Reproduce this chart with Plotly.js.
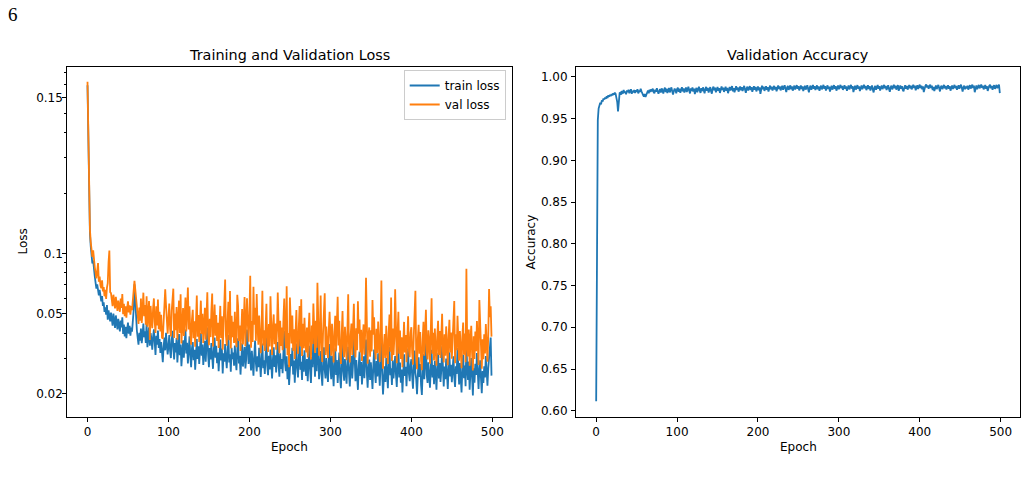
<!DOCTYPE html>
<html>
<head>
<meta charset="utf-8">
<script src="https://cdn.plot.ly/plotly-3.0.1.min.js"></script>
<style>
  html, body { margin: 0; padding: 0; background: #ffffff; }
  #chart { width: 1028px; height: 480px; }
</style>
</head>
<body>
<div id="chart"></div>
<script>
// Per-epoch training history (500 epochs)
const trainLoss = [
  0.6900, 0.3050, 0.1620, 0.1260, 0.1085, 0.0972, 0.0893, 0.0921, 0.0812, 0.0768,
  0.0714, 0.0668, 0.0702, 0.0641, 0.0618, 0.0659, 0.0592, 0.0577, 0.0613, 0.0548,
  0.0571, 0.0512, 0.0539, 0.0496, 0.0553, 0.0468, 0.0521, 0.0487, 0.0459, 0.0508,
  0.0476, 0.0437, 0.0502, 0.0458, 0.0426, 0.0491, 0.0449, 0.0418, 0.0472, 0.0437,
  0.0409, 0.0463, 0.0428, 0.0481, 0.0397, 0.0442, 0.0386, 0.0431, 0.0378, 0.0419,
  0.0452, 0.0398, 0.0436, 0.0389, 0.0427, 0.0408, 0.0468, 0.0521, 0.0702, 0.0583,
  0.0461, 0.0412, 0.0379, 0.0351, 0.0402, 0.0368, 0.0423, 0.0357, 0.0391, 0.0447,
  0.0382, 0.0409, 0.0358, 0.0452, 0.0341, 0.0393, 0.0428, 0.0347, 0.0401, 0.0372,
  0.0331, 0.0384, 0.0419, 0.0362, 0.0312, 0.0389, 0.0351, 0.0413, 0.0338, 0.0374,
  0.0319, 0.0362, 0.0298, 0.0287, 0.0342, 0.0381, 0.0329, 0.0402, 0.0353, 0.0314,
  0.0346, 0.0392, 0.0327, 0.0301, 0.0368, 0.0412, 0.0339, 0.0296, 0.0358, 0.0321,
  0.0379, 0.0286, 0.0334, 0.0397, 0.0311, 0.0352, 0.0274, 0.0328, 0.0369, 0.0302,
  0.0343, 0.0418, 0.0317, 0.0359, 0.0283, 0.0324, 0.0386, 0.0308, 0.0271, 0.0337,
  0.0362, 0.0294, 0.0331, 0.0263, 0.0319, 0.0374, 0.0298, 0.0345, 0.0281, 0.0326,
  0.0401, 0.0309, 0.0352, 0.0278, 0.0316, 0.0367, 0.0289, 0.0334, 0.0427, 0.0313,
  0.0271, 0.0338, 0.0296, 0.0358, 0.0312, 0.0266, 0.0329, 0.0381, 0.0302, 0.0347,
  0.0284, 0.0321, 0.0259, 0.0306, 0.0372, 0.0293, 0.0336, 0.0252, 0.0318, 0.0289,
  0.0354, 0.0301, 0.0268, 0.0327, 0.0392, 0.0286, 0.0314, 0.0257, 0.0339, 0.0297,
  0.0321, 0.0276, 0.0348, 0.0291, 0.0262, 0.0333, 0.0378, 0.0283, 0.0309, 0.0249,
  0.0315, 0.0357, 0.0273, 0.0302, 0.0342, 0.0267, 0.0296, 0.0418, 0.0318, 0.0281,
  0.0352, 0.0294, 0.0261, 0.0327, 0.0279, 0.0246, 0.0312, 0.0368, 0.0283, 0.0258,
  0.0307, 0.0271, 0.0339, 0.0288, 0.0242, 0.0301, 0.0356, 0.0268, 0.0293, 0.0251,
  0.0319, 0.0382, 0.0276, 0.0247, 0.0309, 0.0264, 0.0332, 0.0286, 0.0238, 0.0297,
  0.0341, 0.0272, 0.0311, 0.0255, 0.0289, 0.0362, 0.0277, 0.0243, 0.0318, 0.0266,
  0.0298, 0.0253, 0.0324, 0.0412, 0.0284, 0.0259, 0.0307, 0.0236, 0.0279, 0.0221,
  0.0262, 0.0315, 0.0274, 0.0339, 0.0249, 0.0293, 0.0227, 0.0281, 0.0356, 0.0268,
  0.0241, 0.0302, 0.0379, 0.0263, 0.0288, 0.0234, 0.0311, 0.0257, 0.0329, 0.0276,
  0.0245, 0.0298, 0.0231, 0.0284, 0.0347, 0.0262, 0.0226, 0.0305, 0.0271, 0.0392,
  0.0285, 0.0243, 0.0319, 0.0259, 0.0418, 0.0297, 0.0236, 0.0274, 0.0326, 0.0251,
  0.0219, 0.0283, 0.0341, 0.0262, 0.0238, 0.0301, 0.0267, 0.0229, 0.0289, 0.0354,
  0.0271, 0.0236, 0.0309, 0.0255, 0.0218, 0.0282, 0.0337, 0.0248, 0.0294, 0.0226,
  0.0267, 0.0321, 0.0241, 0.0213, 0.0276, 0.0358, 0.0259, 0.0232, 0.0298, 0.0264,
  0.0224, 0.0287, 0.0343, 0.0253, 0.0217, 0.0272, 0.0309, 0.0238, 0.0283, 0.0397,
  0.0268, 0.0231, 0.0294, 0.0252, 0.0209, 0.0276, 0.0324, 0.0245, 0.0288, 0.0222,
  0.0263, 0.0307, 0.0239, 0.0281, 0.0372, 0.0256, 0.0214, 0.0269, 0.0296, 0.0234,
  0.0287, 0.0248, 0.0211, 0.0273, 0.0332, 0.0257, 0.0226, 0.0291, 0.0244, 0.0318,
  0.0262, 0.0219, 0.0284, 0.0386, 0.0251, 0.0198, 0.0237, 0.0274, 0.0229, 0.0301,
  0.0256, 0.0213, 0.0279, 0.0342, 0.0247, 0.0268, 0.0221, 0.0293, 0.0238, 0.0262,
  0.0308, 0.0249, 0.0216, 0.0277, 0.0353, 0.0241, 0.0286, 0.0227, 0.0264, 0.0203,
  0.0259, 0.0314, 0.0245, 0.0272, 0.0218, 0.0289, 0.0336, 0.0251, 0.0231, 0.0278,
  0.0297, 0.0243, 0.0212, 0.0269, 0.0328, 0.0254, 0.0236, 0.0199, 0.0261, 0.0304,
  0.0242, 0.0281, 0.0221, 0.0197, 0.0258, 0.0315, 0.0236, 0.0274, 0.0362, 0.0248,
  0.0226, 0.0287, 0.0253, 0.0214, 0.0269, 0.0331, 0.0241, 0.0278, 0.0223, 0.0292,
  0.0257, 0.0209, 0.0266, 0.0318, 0.0238, 0.0284, 0.0229, 0.0261, 0.0345, 0.0247,
  0.0217, 0.0273, 0.0236, 0.0299, 0.0252, 0.0211, 0.0268, 0.0322, 0.0244, 0.0279,
  0.0228, 0.0263, 0.0307, 0.0241, 0.0216, 0.0274, 0.0251, 0.0338, 0.0259, 0.0222,
  0.0284, 0.0246, 0.0203, 0.0267, 0.0313, 0.0239, 0.0276, 0.0218, 0.0371, 0.0262,
  0.0234, 0.0289, 0.0209, 0.0256, 0.0301, 0.0243, 0.0196, 0.0268, 0.0227, 0.0282,
  0.0248, 0.0319, 0.0236, 0.0211, 0.0264, 0.0293, 0.0238, 0.0201, 0.0259, 0.0226,
  0.0274, 0.0241, 0.0308, 0.0253, 0.0219, 0.0267, 0.0296, 0.0332, 0.0381, 0.0246
];

const valLoss = [
  0.7200, 0.3320, 0.1710, 0.1320, 0.1140, 0.1010, 0.0962, 0.1038, 0.0905, 0.0853,
  0.0802, 0.0751, 0.0818, 0.0896, 0.0723, 0.0768, 0.0694, 0.0672, 0.0735, 0.0648,
  0.0681, 0.0612, 0.0659, 0.0593, 0.0674, 0.0712, 0.0905, 0.1035, 0.0642, 0.0635,
  0.0589, 0.0546, 0.0623, 0.0571, 0.0532, 0.0608, 0.0559, 0.0517, 0.0583, 0.0548,
  0.0512, 0.0597, 0.0536, 0.0628, 0.0498, 0.0561, 0.0487, 0.0545, 0.0479, 0.0534,
  0.0578, 0.0509, 0.0552, 0.0496, 0.0547, 0.0521, 0.0594, 0.0648, 0.0731, 0.0662,
  0.0583, 0.0512, 0.0468, 0.0445, 0.0538, 0.0462, 0.0596, 0.0451, 0.0521, 0.0638,
  0.0487, 0.0553, 0.0441, 0.0612, 0.0432, 0.0527, 0.0579, 0.0371, 0.0548, 0.0469,
  0.0424, 0.0532, 0.0597, 0.0456, 0.0402, 0.0545, 0.0438, 0.0589, 0.0419, 0.0512,
  0.0408, 0.0495, 0.0381, 0.0376, 0.0468, 0.0541, 0.0663, 0.0552, 0.0437, 0.0398,
  0.0472, 0.0563, 0.0421, 0.0386, 0.0518, 0.0597, 0.0668, 0.0379, 0.0502, 0.0414,
  0.0541, 0.0372, 0.0463, 0.0582, 0.0401, 0.0627, 0.0356, 0.0449, 0.0534, 0.0388,
  0.0476, 0.0603, 0.0409, 0.0512, 0.0677, 0.0418, 0.0546, 0.0392, 0.0351, 0.0468,
  0.0524, 0.0378, 0.0459, 0.0343, 0.0447, 0.0618, 0.0385, 0.0493, 0.0362, 0.0451,
  0.0582, 0.0397, 0.0501, 0.0358, 0.0439, 0.0536, 0.0372, 0.0478, 0.0641, 0.0403,
  0.0349, 0.0472, 0.0383, 0.0518, 0.0632, 0.0344, 0.0461, 0.0557, 0.0389, 0.0493,
  0.0366, 0.0451, 0.0338, 0.0428, 0.0548, 0.0379, 0.0487, 0.0331, 0.0452, 0.0529,
  0.0742, 0.0388, 0.0347, 0.0463, 0.0574, 0.0369, 0.0651, 0.0336, 0.0489, 0.0382,
  0.0457, 0.0358, 0.0512, 0.0376, 0.0341, 0.0623, 0.0547, 0.0366, 0.0438, 0.0327,
  0.0449, 0.0528, 0.0352, 0.0426, 0.0607, 0.0345, 0.0417, 0.0598, 0.0452, 0.0363,
  0.0503, 0.0774, 0.0339, 0.0461, 0.0362, 0.0683, 0.0442, 0.0536, 0.0367, 0.0629,
  0.0437, 0.0351, 0.0491, 0.0372, 0.0318, 0.0426, 0.0652, 0.0348, 0.0414, 0.0327,
  0.0458, 0.0561, 0.0357, 0.0323, 0.0445, 0.0344, 0.0612, 0.0408, 0.0312, 0.0429,
  0.0497, 0.0353, 0.0448, 0.0331, 0.0412, 0.0639, 0.0359, 0.0318, 0.0462, 0.0346,
  0.0428, 0.0329, 0.0471, 0.0596, 0.0406, 0.0337, 0.0687, 0.0311, 0.0401, 0.0271,
  0.0603, 0.0452, 0.0356, 0.0491, 0.0327, 0.0419, 0.0298, 0.0403, 0.0522, 0.0349,
  0.0316, 0.0432, 0.0547, 0.0344, 0.0592, 0.0308, 0.0446, 0.0337, 0.0478, 0.0361,
  0.0321, 0.0427, 0.0303, 0.0409, 0.0506, 0.0343, 0.0296, 0.0437, 0.0354, 0.0563,
  0.0409, 0.0319, 0.0462, 0.0339, 0.0714, 0.0427, 0.0309, 0.0396, 0.0618, 0.0331,
  0.0288, 0.0408, 0.0497, 0.0634, 0.0312, 0.0432, 0.0349, 0.0301, 0.0417, 0.0512,
  0.0391, 0.0309, 0.0446, 0.0334, 0.0286, 0.0406, 0.0489, 0.0325, 0.0423, 0.0608,
  0.0348, 0.0462, 0.0316, 0.0281, 0.0398, 0.0517, 0.0339, 0.0304, 0.0431, 0.0345,
  0.0294, 0.0412, 0.0627, 0.0332, 0.0286, 0.0391, 0.0447, 0.0312, 0.0408, 0.0561,
  0.0351, 0.0303, 0.0424, 0.0329, 0.0578, 0.0398, 0.0469, 0.0321, 0.0416, 0.0291,
  0.0383, 0.0443, 0.0313, 0.0405, 0.0757, 0.0336, 0.0282, 0.0389, 0.0428, 0.0306,
  0.0414, 0.0325, 0.0586, 0.0394, 0.0481, 0.0338, 0.0296, 0.0421, 0.0319, 0.0458,
  0.0379, 0.0288, 0.0409, 0.0733, 0.0329, 0.0266, 0.0344, 0.0397, 0.0301, 0.0436,
  0.0335, 0.0281, 0.0403, 0.0496, 0.0324, 0.0603, 0.0291, 0.0423, 0.0312, 0.0378,
  0.0663, 0.0326, 0.0284, 0.0401, 0.0512, 0.0316, 0.0413, 0.0298, 0.0382, 0.0271,
  0.0374, 0.0456, 0.0321, 0.0392, 0.0287, 0.0418, 0.0487, 0.0329, 0.0304, 0.0401,
  0.0429, 0.0318, 0.0279, 0.0388, 0.0476, 0.0652, 0.0309, 0.0265, 0.0377, 0.0441,
  0.0316, 0.0406, 0.0291, 0.0262, 0.0373, 0.0457, 0.0309, 0.0396, 0.0524, 0.0325,
  0.0296, 0.0414, 0.0366, 0.0282, 0.0389, 0.0598, 0.0316, 0.0402, 0.0293, 0.0423,
  0.0336, 0.0276, 0.0384, 0.0462, 0.0312, 0.0411, 0.0301, 0.0377, 0.0501, 0.0324,
  0.0286, 0.0395, 0.0309, 0.0433, 0.0364, 0.0277, 0.0387, 0.0467, 0.0321, 0.0404,
  0.0299, 0.0381, 0.0446, 0.0579, 0.0284, 0.0396, 0.0329, 0.0489, 0.0374, 0.0292,
  0.0411, 0.0322, 0.0268, 0.0386, 0.0453, 0.0313, 0.0399, 0.0287, 0.0839, 0.0345,
  0.0307, 0.0418, 0.0276, 0.0371, 0.0436, 0.0319, 0.0261, 0.0387, 0.0298, 0.0408,
  0.0326, 0.0461, 0.0309, 0.0278, 0.0586, 0.0423, 0.0313, 0.0266, 0.0374, 0.0297,
  0.0396, 0.0317, 0.0445, 0.0333, 0.0289, 0.0386, 0.0665, 0.0481, 0.0546, 0.0385
];

const valAccuracy = [
  0.6115, 0.9150, 0.9480, 0.9620, 0.9655, 0.9690, 0.9672, 0.9718, 0.9705, 0.9741,
  0.9728, 0.9752, 0.9736, 0.9768, 0.9745, 0.9779, 0.9761, 0.9784, 0.9770, 0.9792,
  0.9778, 0.9803, 0.9786, 0.9811, 0.9795, 0.9762, 0.9701, 0.9587, 0.9748, 0.9806,
  0.9812, 0.9786, 0.9831, 0.9798, 0.9842, 0.9807, 0.9825, 0.9791, 0.9838, 0.9815,
  0.9846, 0.9803, 0.9828, 0.9851, 0.9797, 0.9834, 0.9812, 0.9843, 0.9806, 0.9839,
  0.9821, 0.9852, 0.9801, 0.9837, 0.9818, 0.9856, 0.9827, 0.9794, 0.9781, 0.9763,
  0.9795, 0.9758, 0.9783, 0.9811, 0.9836, 0.9804, 0.9847, 0.9819, 0.9852, 0.9824,
  0.9859, 0.9816, 0.9802, 0.9845, 0.9821, 0.9863, 0.9833, 0.9798, 0.9828, 0.9854,
  0.9811, 0.9862, 0.9835, 0.9799, 0.9848, 0.9871, 0.9818, 0.9857, 0.9806, 0.9842,
  0.9866, 0.9814, 0.9851, 0.9874, 0.9826, 0.9789, 0.9831, 0.9859, 0.9838, 0.9803,
  0.9852, 0.9869, 0.9821, 0.9858, 0.9809, 0.9847, 0.9876, 0.9825, 0.9861, 0.9812,
  0.9849, 0.9872, 0.9817, 0.9856, 0.9881, 0.9834, 0.9801, 0.9862, 0.9829, 0.9873,
  0.9824, 0.9858, 0.9793, 0.9845, 0.9868, 0.9815, 0.9859, 0.9882, 0.9836, 0.9807,
  0.9863, 0.9828, 0.9874, 0.9841, 0.9802, 0.9857, 0.9879, 0.9832, 0.9866, 0.9811,
  0.9854, 0.9877, 0.9826, 0.9798, 0.9861, 0.9883, 0.9837, 0.9869, 0.9814, 0.9859,
  0.9878, 0.9831, 0.9865, 0.9807, 0.9856, 0.9886, 0.9842, 0.9871, 0.9819, 0.9862,
  0.9881, 0.9833, 0.9868, 0.9804, 0.9857, 0.9879, 0.9838, 0.9872, 0.9889, 0.9827,
  0.9864, 0.9815, 0.9869, 0.9887, 0.9841, 0.9874, 0.9822, 0.9866, 0.9884, 0.9839,
  0.9877, 0.9829, 0.9868, 0.9892, 0.9846, 0.9808, 0.9863, 0.9883, 0.9836, 0.9874,
  0.9889, 0.9842, 0.9876, 0.9821, 0.9866, 0.9887, 0.9845, 0.9879, 0.9826, 0.9869,
  0.9884, 0.9839, 0.9873, 0.9796, 0.9858, 0.9893, 0.9851, 0.9881, 0.9832, 0.9869,
  0.9888, 0.9843, 0.9877, 0.9824, 0.9866, 0.9895, 0.9849, 0.9882, 0.9836, 0.9872,
  0.9891, 0.9847, 0.9879, 0.9827, 0.9869, 0.9897, 0.9853, 0.9885, 0.9838, 0.9876,
  0.9894, 0.9845, 0.9881, 0.9899, 0.9856, 0.9818, 0.9872, 0.9891, 0.9843, 0.9879,
  0.9898, 0.9851, 0.9886, 0.9834, 0.9874, 0.9895, 0.9848, 0.9882, 0.9901, 0.9857,
  0.9889, 0.9838, 0.9876, 0.9896, 0.9852, 0.9884, 0.9829, 0.9869, 0.9893, 0.9846,
  0.9881, 0.9899, 0.9854, 0.9815, 0.9873, 0.9894, 0.9845, 0.9879, 0.9902, 0.9857,
  0.9888, 0.9842, 0.9877, 0.9897, 0.9851, 0.9886, 0.9833, 0.9871, 0.9895, 0.9849,
  0.9882, 0.9903, 0.9856, 0.9887, 0.9836, 0.9874, 0.9898, 0.9853, 0.9883, 0.9824,
  0.9872, 0.9894, 0.9846, 0.9881, 0.9901, 0.9855, 0.9888, 0.9834, 0.9876, 0.9897,
  0.9851, 0.9884, 0.9904, 0.9862, 0.9891, 0.9843, 0.9877, 0.9899, 0.9855, 0.9886,
  0.9832, 0.9873, 0.9896, 0.9849, 0.9882, 0.9903, 0.9858, 0.9889, 0.9818, 0.9869,
  0.9893, 0.9847, 0.9879, 0.9901, 0.9856, 0.9886, 0.9829, 0.9872, 0.9897, 0.9851,
  0.9884, 0.9905, 0.9862, 0.9891, 0.9841, 0.9876, 0.9899, 0.9853, 0.9887, 0.9836,
  0.9874, 0.9896, 0.9848, 0.9813, 0.9869, 0.9892, 0.9845, 0.9879, 0.9902, 0.9857,
  0.9888, 0.9835, 0.9873, 0.9897, 0.9852, 0.9884, 0.9904, 0.9861, 0.9891, 0.9842,
  0.9877, 0.9899, 0.9854, 0.9821, 0.9872, 0.9894, 0.9849, 0.9886, 0.9906, 0.9863,
  0.9893, 0.9846, 0.9879, 0.9901, 0.9832, 0.9874, 0.9897, 0.9856, 0.9889, 0.9843,
  0.9826, 0.9876, 0.9899, 0.9858, 0.9891, 0.9847, 0.9878, 0.9903, 0.9861, 0.9893,
  0.9849, 0.9884, 0.9905, 0.9866, 0.9895, 0.9838, 0.9875, 0.9899, 0.9854, 0.9887,
  0.9907, 0.9865, 0.9894, 0.9851, 0.9886, 0.9817, 0.9868, 0.9892, 0.9909, 0.9872,
  0.9898, 0.9856, 0.9887, 0.9906, 0.9864, 0.9893, 0.9841, 0.9879, 0.9829, 0.9871,
  0.9896, 0.9853, 0.9884, 0.9903, 0.9866, 0.9825, 0.9876, 0.9894, 0.9852, 0.9888,
  0.9904, 0.9861, 0.9891, 0.9848, 0.9879, 0.9899, 0.9857, 0.9887, 0.9834, 0.9873,
  0.9895, 0.9854, 0.9884, 0.9903, 0.9862, 0.9892, 0.9845, 0.9878, 0.9898, 0.9858,
  0.9887, 0.9906, 0.9867, 0.9822, 0.9874, 0.9895, 0.9851, 0.9884, 0.9863, 0.9893,
  0.9846, 0.9879, 0.9901, 0.9859, 0.9888, 0.9907, 0.9866, 0.9894, 0.9816, 0.9871,
  0.9896, 0.9853, 0.9885, 0.9904, 0.9862, 0.9891, 0.9908, 0.9868, 0.9895, 0.9849,
  0.9881, 0.9902, 0.9857, 0.9888, 0.9831, 0.9874, 0.9893, 0.9906, 0.9863, 0.9891,
  0.9845, 0.9879, 0.9899, 0.9856, 0.9886, 0.9903, 0.9864, 0.9892, 0.9908, 0.9805
];

// Axis ticks and labels
const epochTicks = [0, 100, 200, 300, 400, 500];
const lossTickVals = [0.02, 0.05, 0.1, 0.6];
const lossTickText = ['0.02', '0.05', '0.1', '0.15'];
const lossMinorTicks = [0.03, 0.04, 0.06, 0.07, 0.08, 0.09, 0.2, 0.3, 0.4, 0.5, 0.7, 0.8];
const accTickVals = [0.60, 0.65, 0.70, 0.75, 0.80, 0.85, 0.90, 0.95, 1.00];

// Figure geometry in pixels
const W = 1028, H = 480;
const fx = p => p / W;
const fy = p => 1 - p / H;
const leftBox = { x0: 67.3, x1: 511.7 };
const rightBox = { x0: 576, x1: 1020 };
const boxTop = 67.3, boxBottom = 416.7;

const FONT = 'DejaVu Sans, sans-serif';
const tickFont = { family: FONT, size: 12, color: '#000' };
const titleFont = { family: FONT, size: 14.4, color: '#000' };
const blue = '#1f77b4', orange = '#ff7f0e';

const baseAxis = {
  showgrid: false,
  zeroline: false,
  showline: true,
  mirror: true,
  linecolor: '#000',
  linewidth: 1,
  ticks: 'outside',
  ticklen: 4,
  tickwidth: 1,
  tickcolor: '#000',
  tickfont: tickFont,
  fixedrange: true
};

const traces = [
  { x0: 0, dx: 1, y: trainLoss, type: 'scatter', mode: 'lines', name: 'train loss',
    line: { color: blue, width: 1.8 }, xaxis: 'x', yaxis: 'y' },
  { x0: 0, dx: 1, y: valLoss, type: 'scatter', mode: 'lines', name: 'val loss',
    line: { color: orange, width: 1.8 }, xaxis: 'x', yaxis: 'y' },
  { x0: 0, dx: 1, y: valAccuracy, type: 'scatter', mode: 'lines', name: 'val accuracy',
    line: { color: blue, width: 1.8 }, xaxis: 'x2', yaxis: 'y2', showlegend: false }
];

const epochRange = [-24.95, 523.95];

const layout = {
  width: W, height: H,
  margin: { l: 0, r: 0, t: 0, b: 0, pad: 0 },
  paper_bgcolor: '#ffffff',
  plot_bgcolor: '#ffffff',
  showlegend: true,
  legend: {
    x: fx(505.7), xanchor: 'right',
    y: fy(70), yanchor: 'top',
    bgcolor: 'rgba(255,255,255,0.8)',
    bordercolor: '#cccccc', borderwidth: 1,
    font: { family: FONT, size: 12, color: '#000' },
    tracegroupgap: 0
  },
  xaxis: Object.assign({}, baseAxis, {
    domain: [fx(leftBox.x0), fx(leftBox.x1)], anchor: 'y',
    range: epochRange, tickmode: 'array', tickvals: epochTicks
  }),
  yaxis: Object.assign({}, baseAxis, {
    domain: [fy(boxBottom), fy(boxTop)], anchor: 'x',
    type: 'log', range: [Math.log10(0.01535), Math.log10(0.849)],
    tickmode: 'array', tickvals: lossTickVals, ticktext: lossTickText,
    ticklabelstandoff: -3,
    minor: { tickmode: 'array', tickvals: lossMinorTicks, ticks: 'outside',
             ticklen: 2, tickwidth: 1, tickcolor: '#000', showgrid: false }
  }),
  xaxis2: Object.assign({}, baseAxis, {
    domain: [fx(rightBox.x0), fx(rightBox.x1)], anchor: 'y2',
    range: epochRange, tickmode: 'array', tickvals: epochTicks
  }),
  yaxis2: Object.assign({}, baseAxis, {
    domain: [fy(boxBottom), fy(boxTop)], anchor: 'x2',
    range: [0.5929, 1.0114], tickmode: 'array', tickvals: accTickVals,
    tickformat: '.2f', ticklabelstandoff: 1
  }),
  annotations: [
    { text: '6', xref: 'paper', yref: 'paper', x: fx(6), y: fy(14), xanchor: 'left', yanchor: 'middle',
      showarrow: false, font: { family: 'Liberation Serif, serif', size: 19, color: '#000' } },
    { text: 'Training and Validation Loss', xref: 'paper', yref: 'paper',
      x: fx((leftBox.x0 + leftBox.x1) / 2), y: fy(55), xanchor: 'center', yanchor: 'middle',
      showarrow: false, font: titleFont },
    { text: 'Validation Accuracy', xref: 'paper', yref: 'paper',
      x: fx((rightBox.x0 + rightBox.x1) / 2), y: fy(55), xanchor: 'center', yanchor: 'middle',
      showarrow: false, font: titleFont },
    { text: 'Epoch', xref: 'paper', yref: 'paper',
      x: fx((leftBox.x0 + leftBox.x1) / 2), y: fy(446.5), xanchor: 'center', yanchor: 'middle',
      showarrow: false, font: tickFont },
    { text: 'Epoch', xref: 'paper', yref: 'paper',
      x: fx((rightBox.x0 + rightBox.x1) / 2), y: fy(446.5), xanchor: 'center', yanchor: 'middle',
      showarrow: false, font: tickFont },
    { text: 'Loss', xref: 'paper', yref: 'paper', textangle: -90,
      x: fx(22.5), y: fy((boxTop + boxBottom) / 2), xanchor: 'center', yanchor: 'middle',
      showarrow: false, font: tickFont },
    { text: 'Accuracy', xref: 'paper', yref: 'paper', textangle: -90,
      x: fx(530.5), y: fy((boxTop + boxBottom) / 2), xanchor: 'center', yanchor: 'middle',
      showarrow: false, font: tickFont }
  ]
};

Plotly.newPlot('chart', traces, layout, { staticPlot: true, displayModeBar: false });
</script>
</body>
</html>
